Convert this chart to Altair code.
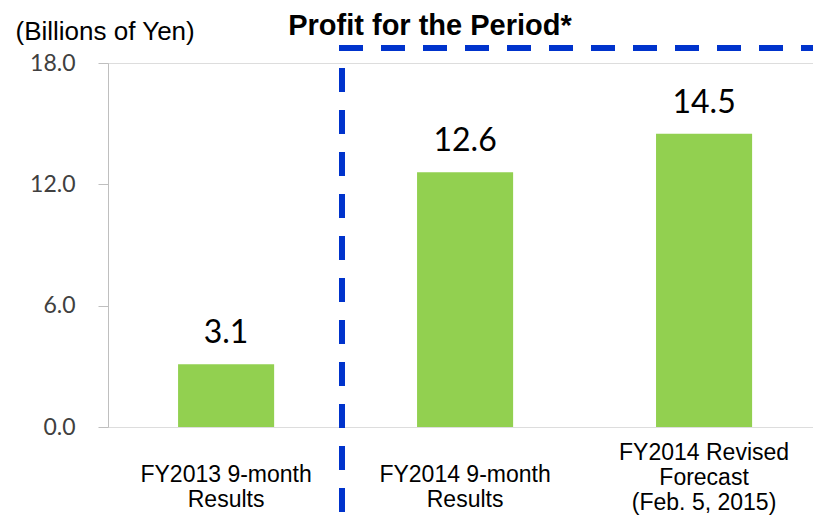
import altair as alt
import pandas as pd

categories = ["FY2013 9-month|Results", "FY2014 9-month|Results", "FY2014 Revised|Forecast|(Feb. 5, 2015)"]
values = [3.1, 12.6, 14.5]
value_labels = ["3.1", "12.6", "14.5"]
y_ticks = [0, 6, 12, 18]
title_text = "Profit for the Period*"
unit_text = "(Billions of Yen)"

df = pd.DataFrame({"cat": categories, "val": values, "lab": value_labels})

x = alt.X(
    "cat:N",
    sort=categories,
    scale=alt.Scale(paddingInner=0.598, paddingOuter=0.274, align=0.535),
    axis=alt.Axis(
        title=None, labelAngle=0, domain=False, ticks=False, tickSize=0,
        labelExpr="split(datum.label, '|')", labelFont="Liberation Sans",
        labelFontSize=23, labelColor="#000000", labelLineHeight=25,
        labelBaseline="top", labelLimit=0, labelOverlap=False,
        labelPadding={"condition": {"test": "datum.value === '%s'" % categories[2], "value": 14}, "value": 36},
    ),
)
y = alt.Y(
    "val:Q",
    scale=alt.Scale(domain=[0, 18], nice=False, zero=True),
    axis=alt.Axis(
        values=y_ticks, format=".1f", grid=False, domainColor="#BFBFBF",
        tickColor="#BFBFBF", tickSize=10, labelFont="Lato", labelFontSize=23,
        labelColor="#404040", labelPadding=23, title=unit_text, titleAngle=0,
        titleAlign="left", titleBaseline="alphabetic", titleX=-93, titleY=-24,
        titleFont="Liberation Sans", titleFontSize=26, titleFontWeight="normal",
        titleColor="#000000",
    ),
)

bars = alt.Chart(df).mark_bar(color="#92D050").encode(x=x, y=y)
labels = alt.Chart(df).mark_text(
    font="Lato", fontSize=32, color="#000000", baseline="alphabetic", dy=-21
).encode(x=x, y=y, text="lab:N")

title_df = pd.DataFrame({"t": [title_text]})
title = alt.Chart(title_df).mark_text(
    font="Liberation Sans", fontSize=29, fontWeight="bold", align="center",
    baseline="alphabetic", color="#000000"
).encode(x=alt.value(322), y=alt.value(-28), text="t:N")

one = pd.DataFrame({"k": [1]})
hline = alt.Chart(one).mark_rule(
    color="#0033CC", strokeWidth=6, strokeDash=[24, 18], strokeCap="butt"
).encode(x=alt.value(231), x2=alt.value(705), y=alt.value(-15))
vline = alt.Chart(one).mark_rule(
    color="#0033CC", strokeWidth=6, strokeDash=[24, 18], strokeDashOffset=22,
    strokeCap="butt"
).encode(x=alt.value(234), y=alt.value(-15), y2=alt.value(453))

chart = alt.layer(bars, labels, title, hline, vline).properties(
    width=705, height=364,
    autosize=alt.AutoSizeParams(type="none"),
    padding={"left": 100, "top": 55, "right": 0, "bottom": 89},
).configure_view(strokeWidth=0).configure(background="white")

chart.save("out.html", embed_options={"renderer": "svg", "actions": False})
